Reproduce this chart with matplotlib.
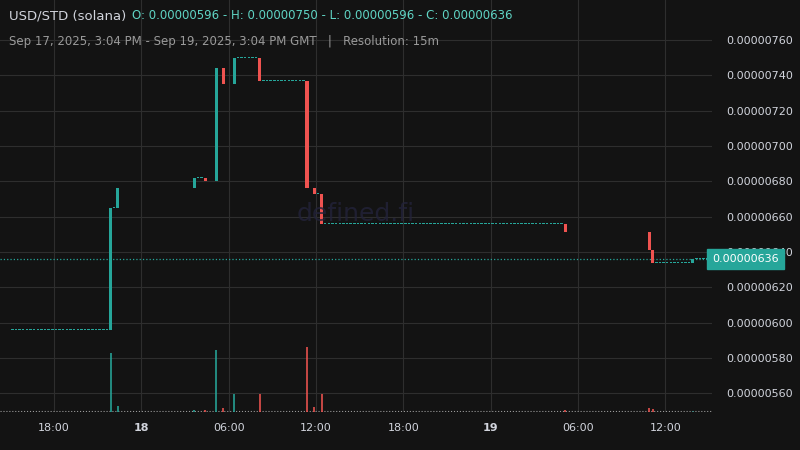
import matplotlib.pyplot as plt
from matplotlib.ticker import FixedLocator

BG = '#131313'
UP = '#26a69a'
DOWN = '#ef5350'
TXT = '#d1d4dc'

# hours since Sep 17 00:00, 15 minute candles
start_hour = 15.0
end_hour = 63.0
first_price = 596
# change events: (hour, open, close) in 1e-11 units
ev_hours = [21.75, 22.25, 27.5, 28.25, 29.0, 29.5, 30.25, 32.0, 35.25, 35.75, 36.25, 53.0, 58.75, 59.0, 61.75]
ev_open = [596, 665, 676, 682, 680, 744, 735, 750, 737, 676, 673, 656, 651, 641, 634]
ev_close = [665, 676, 682, 680, 744, 735, 750, 737, 676, 673, 656, 651, 641, 634, 636]
ev_volume = [55, 6, 2, 2, 57, 4, 17, 17, 60, 5, 17, 2, 4, 3, 1]

tick_hours = [18, 24, 30, 36, 42, 48, 54, 60]
tick_labels = ['18:00', '18', '06:00', '12:00', '18:00', '19', '06:00', '12:00']
price_ticks = [560, 580, 600, 620, 640, 660, 680, 700, 720, 740, 760]

# build candle series, flat between events
times, opens, closes, vols = [], [], [], []
price = first_price
t = start_hour
ev = dict((h, i) for i, h in enumerate(ev_hours))
while t <= end_hour:
    if t in ev:
        i = ev[t]
        times.append(t); opens.append(ev_open[i]); closes.append(ev_close[i]); vols.append(ev_volume[i])
        price = ev_close[i]
    else:
        times.append(t); opens.append(price); closes.append(price); vols.append(0.6)
    t += 0.25

fig = plt.figure(figsize=(8, 4.5), dpi=100, facecolor=BG)
ax = fig.add_axes([0, 0.084, 0.89, 0.916], facecolor=BG)
vax = ax.twinx()
vax.set_position([0, 0.084, 0.89, 0.916])

for s in list(ax.spines.values()) + list(vax.spines.values()):
    s.set_visible(False)

for t, o, c in zip(times, opens, closes):
    col = UP if c >= o else DOWN
    lo, hi = min(o, c), max(o, c)
    if hi - lo > 0.5:
        ax.bar(t + 0.125, hi - lo, bottom=lo, width=0.21, color=col, linewidth=0, zorder=3)
    else:
        ax.bar(t + 0.125, 0.35, bottom=lo, width=0.17, color=col, linewidth=0, zorder=3)

for t, o, c, v in zip(times, opens, closes, vols):
    col = UP if c >= o else DOWN
    vax.bar(t + 0.125, v, width=0.14, color=col, alpha=0.8 if v > 1 else 0.5, linewidth=0)
vax.set_ylim(0, 380)
vax.set_yticks([])

ax.set_xlim(14.28, 63.2)
ax.set_ylim(549.2, 782.7)
ax.xaxis.set_major_locator(FixedLocator(tick_hours))
ax.set_xticklabels(tick_labels)
for lbl, txt in zip(ax.get_xticklabels(), tick_labels):
    lbl.set_fontweight('bold' if txt in ('18', '19') else 'normal')
ax.set_yticks(price_ticks)
ax.yaxis.tick_right()
ax.set_yticklabels([f'{p / 1e8:.8f}' for p in price_ticks])
ax.tick_params(colors=TXT, labelsize=8, length=0, pad=8)
ax.tick_params(axis='y', pad=10)
ax.grid(color='#2e2e2e', linewidth=0.8)
ax.set_axisbelow(True)

ax.axhline(550, color='#9a9a9a', linestyle=':', linewidth=0.8)
last = closes[-1]
ax.axhline(last, color=UP, linestyle=':', linewidth=0.9)
ax.text(1.0, last, f'{last / 1e8:.8f}', transform=ax.get_yaxis_transform(),
        ha='left', va='center', color='white', fontsize=8, zorder=10,
        bbox=dict(boxstyle='square,pad=0.45', fc=UP, ec=UP))

ax.text(0.5, 0.48, 'defined.fi', transform=ax.transAxes, ha='center', va='center',
        fontsize=18, color='#23233a', alpha=0.8)

fig.text(0.011, 0.957, 'USD/STD (solana)', color=TXT, fontsize=9.5)
fig.text(0.165, 0.957, 'O: 0.00000596 - H: 0.00000750 - L: 0.00000596 - C: 0.00000636',
         color='#5fd4c4', fontsize=8.5)
fig.text(0.011, 0.9, 'Sep 17, 2025, 3:04 PM - Sep 19, 2025, 3:04 PM GMT   |   Resolution: 15m',
         color='#9a9a9a', fontsize=8.5)

plt.savefig('out.png', facecolor=BG)
